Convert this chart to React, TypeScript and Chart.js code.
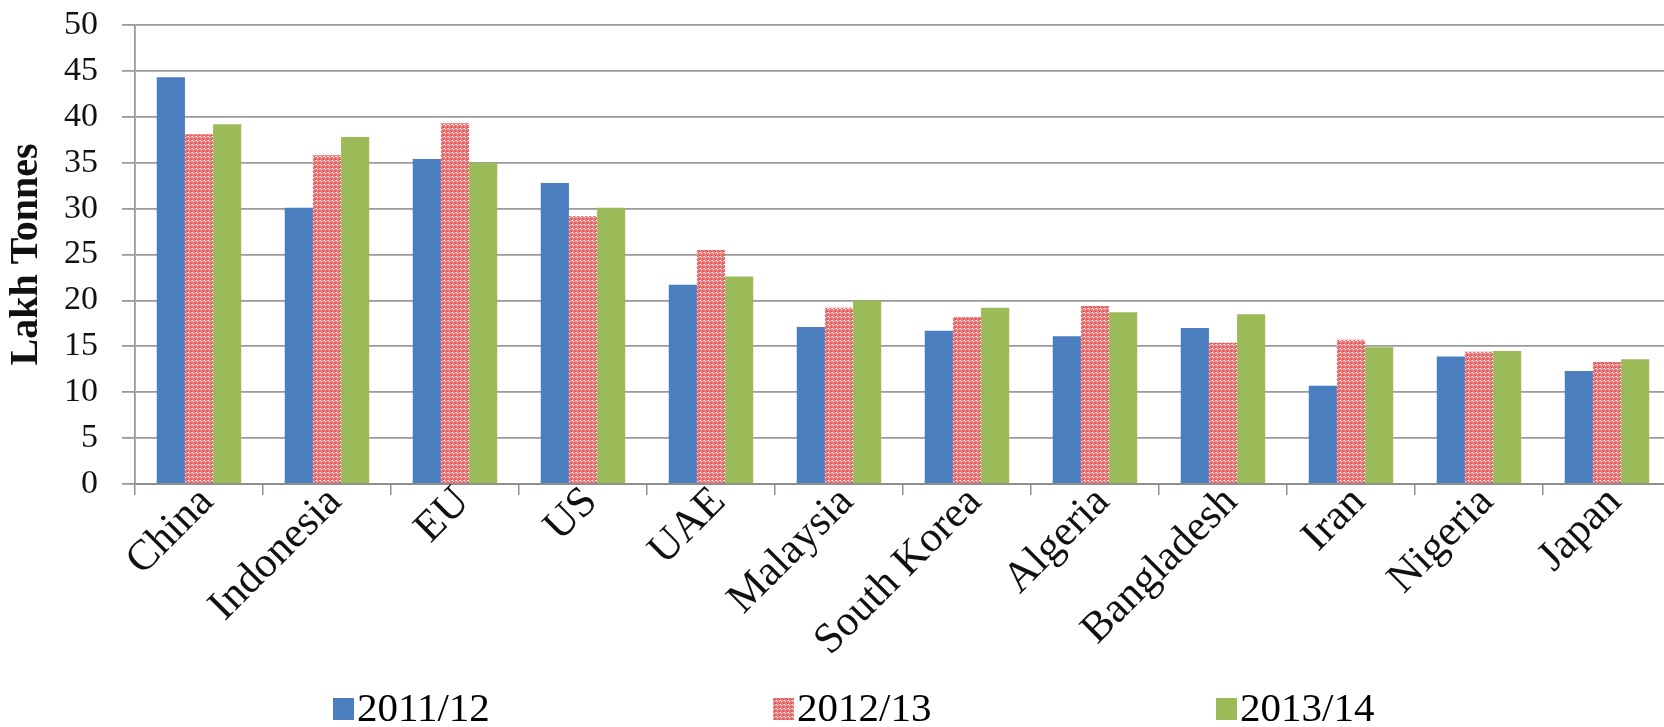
import React, { useEffect, useRef } from "react";
import { Chart, registerables } from "chart.js";

Chart.register(...registerables);

const categories = [
  "China", "Indonesia", "EU", "US", "UAE", "Malaysia",
  "South Korea", "Algeria", "Bangladesh", "Iran", "Nigeria", "Japan",
];
const seriesLabels = ["2011/12", "2012/13", "2013/14"];
const values2011 = [44.3, 30.1, 35.4, 32.8, 21.7, 17.1, 16.7, 16.1, 17.0, 10.7, 13.9, 12.3];
const values2012 = [38.1, 35.8, 39.3, 29.2, 25.5, 19.2, 18.2, 19.4, 15.4, 15.7, 14.4, 13.3];
const values2013 = [39.2, 37.8, 35.0, 30.1, 22.6, 20.0, 19.2, 18.7, 18.5, 14.9, 14.5, 13.6];
const yMin = 0;
const yMax = 50;
const yStep = 5;
const yTitle = "Lakh Tonnes";

const BLUE = "#4a7ebe";
const GREEN = "#9bbb59";

function makePattern(): CanvasPattern | string {
  const c = document.createElement("canvas");
  c.width = 4;
  c.height = 4;
  const g = c.getContext("2d");
  if (!g) return "#ec8080";
  g.fillStyle = "#ec7474";
  g.fillRect(0, 0, 4, 4);
  g.fillStyle = "#ffffff";
  g.fillRect(0, 0, 1, 1);
  g.fillRect(1, 1, 1, 1);
  g.fillStyle = "#fbd0d0";
  g.fillRect(3, 0, 1, 1);
  g.fillStyle = "#c94a4c";
  g.fillRect(3, 3, 1, 1);
  const p = g.createPattern(c, "repeat");
  return p || "#ec8080";
}

export default function App() {
  const ref = useRef<HTMLCanvasElement | null>(null);

  useEffect(() => {
    if (!ref.current) return;
    const pattern = makePattern();
    const colors: (string | CanvasPattern)[] = [BLUE, pattern, GREEN];

    const legendPlugin = {
      id: "customLegend",
      afterDraw(chart: any) {
        const ctx = chart.ctx as CanvasRenderingContext2D;
        const xs = [333, 773, 1216];
        ctx.save();
        ctx.font = "41px 'Liberation Serif', 'Times New Roman', serif";
        ctx.textBaseline = "alphabetic";
        ctx.textAlign = "left";
        seriesLabels.forEach((lab, i) => {
          ctx.fillStyle = colors[i] as any;
          ctx.fillRect(xs[i], 698, 21, 22);
          ctx.fillStyle = "#000";
          ctx.fillText(lab, xs[i] + 24, 721);
        });
        ctx.restore();
      },
    };

    const chart = new Chart(ref.current, {
      type: "bar",
      data: {
        labels: categories,
        datasets: [
          { label: seriesLabels[0], data: values2011, backgroundColor: BLUE },
          { label: seriesLabels[1], data: values2012, backgroundColor: pattern as any },
          { label: seriesLabels[2], data: values2013, backgroundColor: GREEN },
        ],
      },
      options: {
        responsive: false,
        animation: false,
        devicePixelRatio: 1,
        layout: { padding: { top: 25, left: 0, right: 1, bottom: 0 } },
        datasets: {
          bar: { barPercentage: 1.0, categoryPercentage: 0.66 },
        },
        plugins: {
          legend: { display: false },
          tooltip: { enabled: false },
          title: { display: false },
        },
        scales: {
          x: {
            type: "category",
            offset: true,
            grid: {
              offset: true,
              drawOnChartArea: false,
              drawTicks: true,
              tickLength: 11,
              color: "#8f8f8f",
              lineWidth: 1.5,
            },
            border: { display: true, color: "#8f8f8f", width: 2 },
            ticks: {
              autoSkip: false,
              minRotation: 45,
              maxRotation: 45,
              padding: -18,
              labelOffset: 8,
              color: "#111",
              font: { family: "'Liberation Serif', 'Times New Roman', serif", size: 43 },
            },
            afterFit: (s: any) => {
              s.height = 243;
            },
          },
          y: {
            min: yMin,
            max: yMax,
            grid: {
              color: "#9a9a9a",
              lineWidth: 1.8,
              tickLength: 13,
            },
            border: { display: true, color: "#9a9a9a", width: 1.8 },
            ticks: {
              stepSize: yStep,
              autoSkip: false,
              padding: 24,
              color: "#111",
              font: {
                family: "'Liberation Serif', 'Times New Roman', serif",
                size: 34,
                lineHeight: 0.05,
              },
            },
            title: {
              display: true,
              text: yTitle,
              color: "#111",
              font: {
                family: "'Liberation Serif', 'Times New Roman', serif",
                size: 40,
                weight: "bold",
              },
              padding: { top: 3, bottom: 15 },
            },
            afterFit: (s: any) => {
              s.width = 135;
            },
          },
        },
      },
      plugins: [legendPlugin],
    });

    return () => {
      chart.destroy();
    };
  }, []);

  return (
    <div
      style={{
        position: "absolute",
        left: 0,
        top: 0,
        width: 1664,
        height: 727,
        overflow: "hidden",
        background: "#fff",
      }}
    >
      <canvas ref={ref} width={1672} height={727} style={{ display: "block" }} />
    </div>
  );
}
